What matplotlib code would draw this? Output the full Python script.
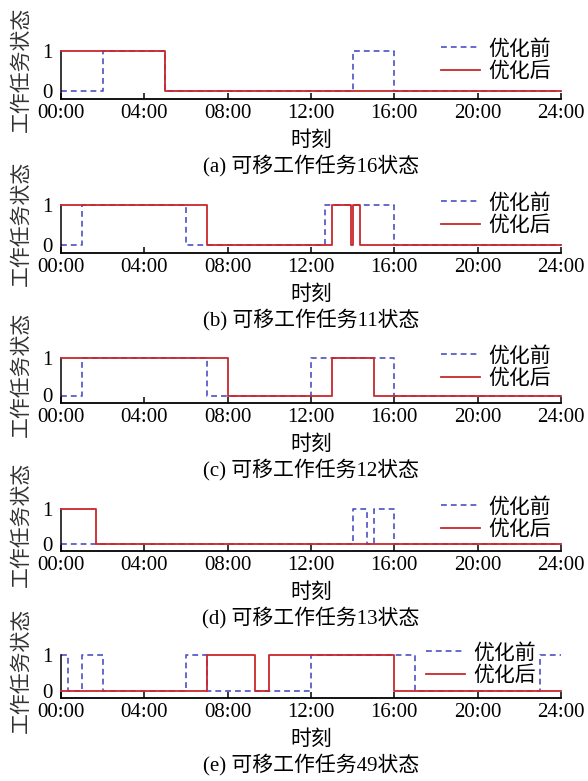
import matplotlib
matplotlib.use("Agg")
import matplotlib.pyplot as plt

plt.rcParams['font.family'] = ['Liberation Serif', 'Noto Sans CJK SC']
plt.rcParams['font.size'] = 15

# ---------------- data ----------------
tick_hours = [0, 4, 8, 12, 16, 20, 24]
tick_labels = ["00:00", "04:00", "08:00", "12:00", "16:00", "20:00", "24:00"]
series_names = ["优化前", "优化后"]
captions = ["(a) 可移工作任务16状态", "(b) 可移工作任务11状态", "(c) 可移工作任务12状态",
            "(d) 可移工作任务13状态", "(e) 可移工作任务49状态"]
ylabel_text = "工作任务状态"
xlabel_text = "时刻"

# task 16
a_before_t = [0, 2, 5, 14, 16, 24]
a_before_s = [0, 1, 0, 1, 0, 0]
a_after_t = [0, 5, 24]
a_after_s = [1, 0, 0]
# task 11
b_before_t = [0, 1, 6, 12.67, 16, 24]
b_before_s = [0, 1, 0, 1, 0, 0]
b_after_t = [0, 7, 13, 13.93, 14.03, 14.33, 24]
b_after_s = [1, 0, 1, 0, 1, 0, 0]
# task 12
c_before_t = [0, 1, 7, 12, 16, 24]
c_before_s = [0, 1, 0, 1, 0, 0]
c_after_t = [0, 8, 13, 15, 24]
c_after_s = [1, 0, 1, 0, 0]
# task 13
d_before_t = [0, 14, 14.67, 15, 16, 24]
d_before_s = [0, 1, 0, 1, 0, 0]
d_after_t = [0, 1.67, 24]
d_after_s = [1, 0, 0]
# task 49
e_before_t = [0, 0.33, 1, 2, 6, 7, 12, 17, 23, 24]
e_before_s = [1, 0, 1, 0, 1, 0, 1, 0, 1, 1]
e_after_t = [0, 7, 9.33, 10, 16, 24]
e_after_s = [0, 1, 0, 1, 0, 0]

panels = [
    (a_before_t, a_before_s, a_after_t, a_after_s),
    (b_before_t, b_before_s, b_after_t, b_after_s),
    (c_before_t, c_before_s, c_after_t, c_after_s),
    (d_before_t, d_before_s, d_after_t, d_after_s),
    (e_before_t, e_before_s, e_after_t, e_after_s),
]

# ---------------- layout (pixels) ----------------
W, H = 588, 781
tops = [51, 205, 358, 509, 655]
spines = [99, 253, 403, 551, 698]
leg_x = [441, 441, 441, 441, 426]
ax_left, ax_right = 61, 561

blue = '#4b52c4'
red = '#c8282d'

fig = plt.figure(figsize=(W / 100, H / 100), dpi=100)

def fy(py):
    return 1 - py / H

for i, (bt, bs, at, as_) in enumerate(panels):
    top, sp = tops[i], spines[i]
    hpx = sp - top
    ax = fig.add_axes([ax_left / W, fy(sp), (ax_right - ax_left) / W, hpx / H])
    l1, = ax.step(bt, bs, where='post', color=blue, lw=1.2, dashes=(3.5, 2.4),
                  clip_on=False, label=series_names[0], zorder=2)
    l2, = ax.step(at, as_, where='post', color=red, lw=1.3,
                  clip_on=False, label=series_names[1], zorder=3)
    ax.set_xlim(0, 24)
    ax.set_ylim(-0.2, 1.0)
    ax.set_xticks(tick_hours)
    ax.set_xticklabels(tick_labels)
    ax.set_yticks([0, 1])
    ax.set_yticklabels(['0', '1'])
    ax.tick_params(axis='x', direction='in', length=4, width=1.1, pad=3.5, labelsize=15)
    ax.tick_params(axis='y', direction='in', length=0, pad=6, labelsize=15)
    for s in ['top', 'right']:
        ax.spines[s].set_visible(False)
    ax.spines['bottom'].set_linewidth(1.3)
    ax.spines['left'].set_linewidth(1.1)
    ax.set_ylabel(ylabel_text, fontsize=15, color='#333333')
    ax.yaxis.label.set_va('center')
    ax.yaxis.set_label_coords((22 - ax_left) / (ax_right - ax_left), 0.5 + 6 / hpx)
    fig.text(((ax_left + ax_right) / 2) / W, fy(sp + 42), xlabel_text,
             ha='center', va='center', fontsize=15)
    fig.text(((ax_left + ax_right) / 2) / W, fy(sp + 67), captions[i],
             ha='center', va='center', fontsize=15)
    ax.legend(handles=[l1, l2], loc='upper left',
              bbox_to_anchor=(leg_x[i] / W, fy(top - 11)),
              bbox_transform=fig.transFigure, frameon=False,
              borderpad=0, borderaxespad=0, handlelength=1.85,
              handletextpad=0.4, labelspacing=0.15, fontsize=15)

fig.savefig('out.png', dpi=100)
